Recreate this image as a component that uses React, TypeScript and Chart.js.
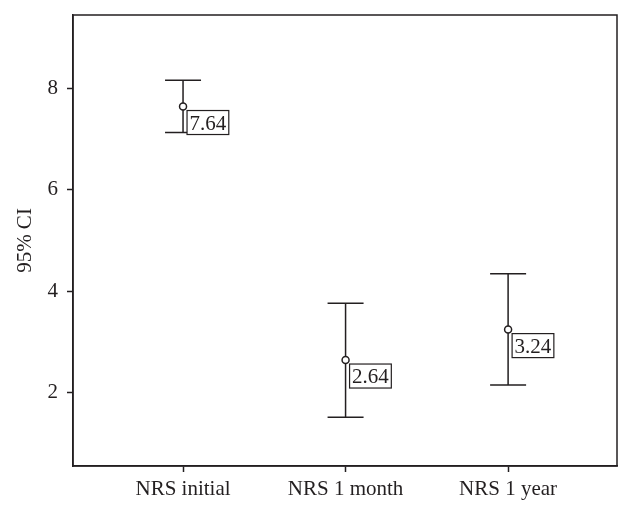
import React, { useEffect, useRef } from "react";
import { Chart, registerables } from "chart.js";

Chart.register(...registerables);

const categories = ["NRS initial", "NRS 1 month", "NRS 1 year"];
const means = [7.64, 2.64, 3.24];
const lowerCI = [7.13, 1.51, 2.15];
const upperCI = [8.16, 3.76, 4.34];
const meanLabels = ["7.64", "2.64", "3.24"];
const yTicks = [2, 4, 6, 8];
const yTitle = "95% CI";

const INK = "#231f20";
const FONT = "'Liberation Serif', 'DejaVu Serif', serif";

const errorBarPlugin = {
  id: "errorBars",
  beforeDatasetsDraw(chart: any) {
    const { ctx, chartArea, scales } = chart;
    ctx.save();
    ctx.strokeStyle = INK;
    ctx.lineWidth = 1.5;
    ctx.strokeRect(chartArea.left, chartArea.top, chartArea.right - chartArea.left, chartArea.bottom - chartArea.top);
    const xs = scales.x;
    const ys = scales.y;
    for (let i = 0; i < means.length; i++) {
      const x = xs.getPixelForValue(i);
      const yHi = ys.getPixelForValue(upperCI[i]);
      const yLo = ys.getPixelForValue(lowerCI[i]);
      ctx.beginPath();
      ctx.moveTo(x, yHi);
      ctx.lineTo(x, yLo);
      ctx.moveTo(x - 18, yHi);
      ctx.lineTo(x + 18, yHi);
      ctx.moveTo(x - 18, yLo);
      ctx.lineTo(x + 18, yLo);
      ctx.stroke();
    }
    ctx.restore();
  },
  afterDatasetsDraw(chart: any) {
    const { ctx, scales } = chart;
    const xs = scales.x;
    const ys = scales.y;
    ctx.save();
    ctx.font = `21px ${FONT}`;
    ctx.textBaseline = "alphabetic";
    ctx.textAlign = "left";
    for (let i = 0; i < means.length; i++) {
      const x = xs.getPixelForValue(i);
      const y = ys.getPixelForValue(means[i]);
      const text = meanLabels[i];
      const w = ctx.measureText(text).width + 5;
      const bx = x + 4;
      const by = y + 4;
      const h = 24;
      ctx.fillStyle = "#ffffff";
      ctx.fillRect(bx, by, w, h);
      ctx.strokeStyle = INK;
      ctx.lineWidth = 1.2;
      ctx.strokeRect(bx, by, w, h);
      ctx.fillStyle = INK;
      ctx.fillText(text, bx + 2.5, by + 19);
    }
    ctx.restore();
  },
};

export default function App() {
  const ref = useRef<HTMLCanvasElement | null>(null);
  useEffect(() => {
    document.body.style.margin = "0";
    if (!ref.current) return;
    const chart = new Chart(ref.current, {
      type: "scatter",
      data: {
        datasets: [
          {
            data: means.map((m, i) => ({ x: i, y: m })),
            pointRadius: 3.5,
            pointBorderWidth: 1.5,
            pointBackgroundColor: "#ffffff",
            pointBorderColor: INK,
            showLine: false,
          },
        ],
      },
      options: {
        animation: false,
        responsive: false,
        maintainAspectRatio: false,
        layout: { padding: { top: 15, right: 15, left: 0, bottom: 0 } },
        plugins: { legend: { display: false }, tooltip: { enabled: false } },
        scales: {
          x: {
            type: "linear",
            min: -0.677,
            max: 2.67,
            afterBuildTicks: (scale: any) => {
              scale.ticks = categories.map((_, i) => ({ value: i }));
            },
            afterFit: (scale: any) => {
              scale.height = 50;
              scale.paddingLeft = 0;
              scale.paddingRight = 0;
            },
            ticks: {
              callback: (v: any) => categories[v as number] ?? "",
              font: { size: 21, family: FONT },
              color: INK,
              padding: 5,
              maxRotation: 0,
              autoSkip: false,
            },
            grid: { drawOnChartArea: false, drawTicks: true, tickLength: 6, color: INK, tickWidth: 1.5 },
            border: { display: true, color: INK, width: 1.5 },
          },
          y: {
            type: "linear",
            min: 0.55,
            max: 9.445,
            afterBuildTicks: (scale: any) => {
              scale.ticks = yTicks.map((v) => ({ value: v }));
            },
            afterFit: (scale: any) => {
              scale.width = 73;
              scale.paddingTop = 0;
              scale.paddingBottom = 0;
            },
            title: {
              display: true,
              text: yTitle,
              font: { size: 21, family: FONT },
              color: INK,
              padding: { top: 13, bottom: 0 },
            },
            ticks: {
              font: { size: 21, family: FONT },
              color: INK,
              padding: 9,
            },
            grid: { drawOnChartArea: false, drawTicks: true, tickLength: 6, color: INK, tickWidth: 1.5 },
            border: { display: true, color: INK, width: 1.5 },
          },
        },
      },
      plugins: [errorBarPlugin],
    });
    return () => chart.destroy();
  }, []);
  return (
    <div style={{ width: 632, height: 516, background: "#fff" }}>
      <canvas ref={ref} width={632} height={516} style={{ display: "block" }} />
    </div>
  );
}
